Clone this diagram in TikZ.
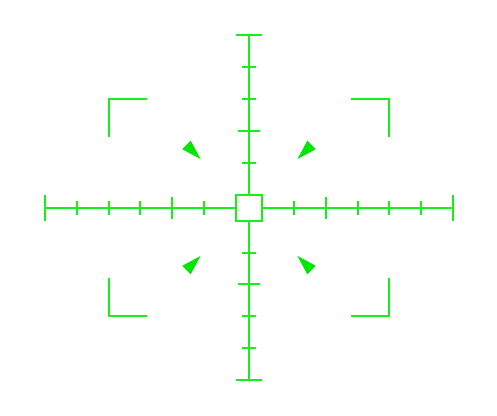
\documentclass[tikz,border=0pt]{standalone}
\usepackage{xcolor}
\usepackage{tikz}
\usetikzlibrary{positioning}
\definecolor{hudgreen}{RGB}{0,230,0}
\definecolor{hudline}{RGB}{24,238,24}

\begin{document}
\begin{tikzpicture}[
x=1pt, y=1pt,
reticle/.style={draw=hudline, line width=2pt},
centrebox/.style={rectangle, draw=hudline, line width=2pt, minimum size=26pt, inner sep=0pt, outer sep=0pt},
pointer/.style={fill=hudgreen}
]

\useasboundingbox (-249,-207.5) rectangle (248,207.5);

\node[centrebox] (centre) at (0,0) {};

\coordinate (left) at (-204,0);
\coordinate (right) at (204,0);
\coordinate (top) at (0,172);
\coordinate (bottom) at (0,-172);

% scale lines
\draw[reticle] (centre.west) -- (left);
\draw[reticle] (centre.east) -- (right);
\draw[reticle] (centre.north) -- (top);
\draw[reticle] (centre.south) -- (bottom);

% end bars
\draw[reticle] ([yshift=-13pt]left) -- ([yshift=13pt]left);
\draw[reticle] ([yshift=-13pt]right) -- ([yshift=13pt]right);
\draw[reticle] ([xshift=-13pt]top) -- ([xshift=13pt]top);
\draw[reticle] ([xshift=-13pt]bottom) -- ([xshift=13pt]bottom);

% small ticks
\foreach \d in {45,108.6,140.4,172.2} {
  \draw[reticle] (-\d,-7) -- (-\d,7);
  \draw[reticle] (\d,-7) -- (\d,7);
}
\foreach \d in {45,108.5,140.2} {
  \draw[reticle] (-7,\d) -- (7,\d);
  \draw[reticle] (-7,-\d) -- (7,-\d);
}

% long ticks
\draw[reticle] (-76.8,-11) -- (-76.8,11);
\draw[reticle] (76.8,-11) -- (76.8,11);
\draw[reticle] (-11,76.7) -- (11,76.7);
\draw[reticle] (-11,-76.7) -- (11,-76.7);

% corner brackets
\foreach \sx in {-1,1}
  \foreach \sy in {-1,1}
    \draw[reticle] (\sx*102,\sy*108.5) -- (\sx*140,\sy*108.5) -- (\sx*140,\sy*70.5);

% pointers
\foreach \a in {45,135,225,315}
  \fill[pointer, rotate=\a] (68.5,0) -- (88.5,6) -- (88.5,-6) -- cycle;

\end{tikzpicture}
\end{document}
